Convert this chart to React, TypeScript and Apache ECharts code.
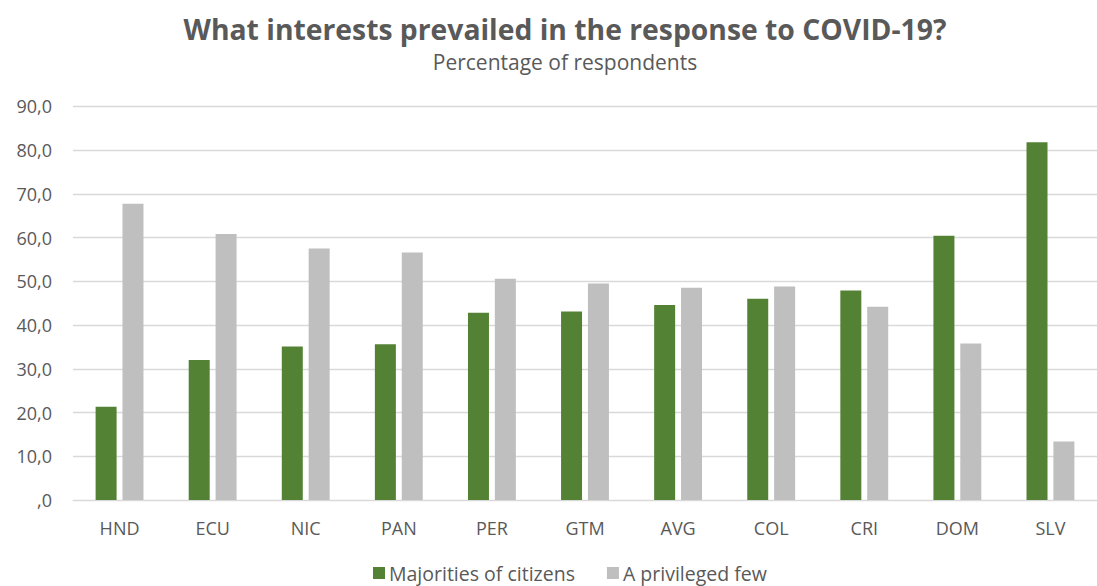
import React, { useEffect, useRef } from "react";
import * as echarts from "echarts";

// Country codes along the x axis
const categories = ["HND", "ECU", "NIC", "PAN", "PER", "GTM", "AVG", "COL", "CRI", "DOM", "SLV"];

// Share of respondents (%) per answer
const majorities = [21.3, 32.0, 35.1, 35.6, 42.8, 43.1, 44.6, 46.0, 47.9, 60.4, 81.8];
const privilegedFew = [67.7, 60.8, 57.5, 56.6, 50.6, 49.5, 48.5, 48.8, 44.2, 35.8, 13.4];

const seriesNames = ["Majorities of citizens", "A privileged few"];

const FONT = "'Open Sans', 'Liberation Sans', sans-serif";
const TEXT = "#595959";

export default function App() {
  const ref = useRef<HTMLDivElement>(null);

  useEffect(() => {
    if (!ref.current) return;
    const chart = echarts.init(ref.current, null, { renderer: "svg" });
    chart.setOption({
      animation: false,
      backgroundColor: "#ffffff",
      textStyle: { fontFamily: FONT },
      title: {
        text: "What interests prevailed in the response to COVID-19?",
        subtext: "Percentage of respondents",
        left: 560,
        textAlign: "center",
        top: 10,
        itemGap: 8,
        textStyle: { fontFamily: FONT, fontSize: 28.3, fontWeight: "bold", color: TEXT },
        subtextStyle: { fontFamily: FONT, fontSize: 21, color: TEXT },
      },
      legend: {
        bottom: -2,
        left: 368,
        itemWidth: 12,
        itemHeight: 12,
        itemGap: 32,
        icon: "rect",
        textStyle: { fontFamily: FONT, fontSize: 19.5, color: TEXT, padding: [0, 0, 0, -1] },
        data: seriesNames,
      },
      grid: { left: 73, top: 106.3, width: 1032, bottom: 86, containLabel: false },
      xAxis: {
        type: "category",
        data: categories,
        axisLine: { lineStyle: { color: "#D9D9D9", width: 1 } },
        axisTick: { show: false },
        axisLabel: { color: TEXT, fontSize: 18, margin: 19, fontFamily: FONT },
      },
      yAxis: {
        type: "value",
        min: 0,
        max: 90,
        interval: 10,
        axisLine: { show: false },
        axisTick: { show: false },
        splitLine: { lineStyle: { color: "#D9D9D9", width: 1.3 } },
        axisLabel: {
          color: TEXT,
          fontSize: 18,
          margin: 21,
          fontFamily: FONT,
          formatter: (v: number) => (v === 0 ? ",0" : v.toFixed(1).replace(".", ",")),
        },
      },
      series: [
        {
          name: seriesNames[0],
          type: "bar",
          data: majorities,
          barWidth: 21,
          barGap: "28%",
          itemStyle: { color: "#548235" },
        },
        {
          name: seriesNames[1],
          type: "bar",
          data: privilegedFew,
          barWidth: 21,
          itemStyle: { color: "#BFBFBF" },
        },
      ],
    });
    return () => chart.dispose();
  }, []);

  return (
    <div
      ref={ref}
      style={{ position: "fixed", left: 0, top: 0, width: 1097, height: 586, background: "#fff" }}
    />
  );
}
